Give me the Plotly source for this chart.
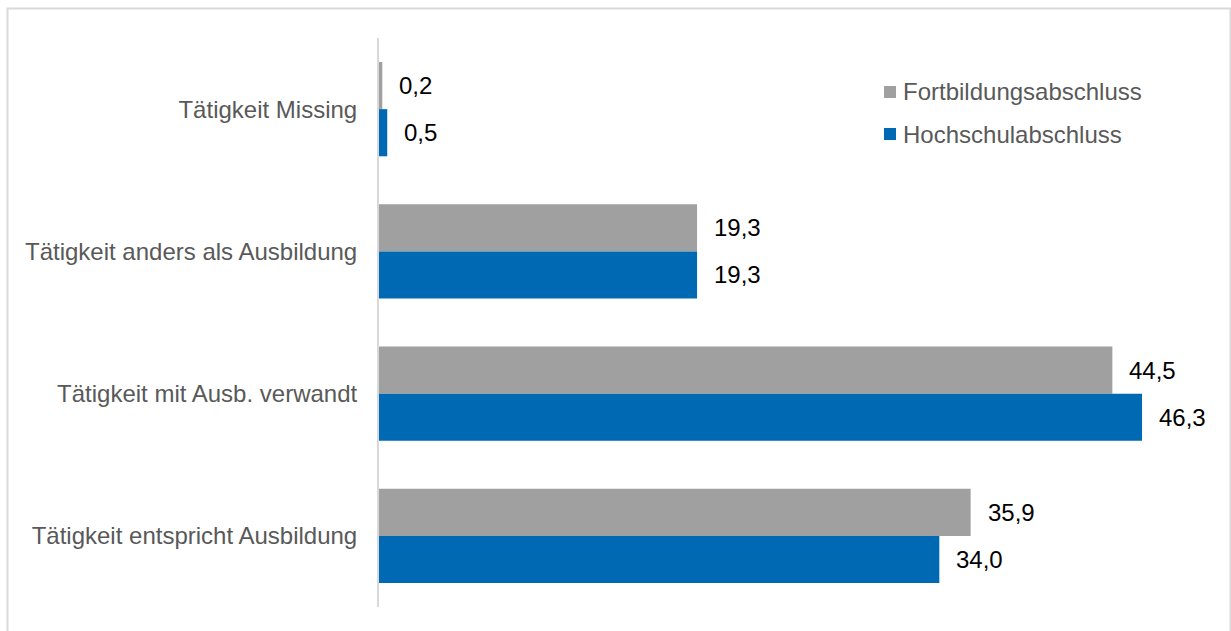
import plotly.graph_objects as go

# Categories listed top to bottom (y axis is reversed)
categories = [
    "Tätigkeit Missing",
    "Tätigkeit anders als Ausbildung",
    "Tätigkeit mit Ausb. verwandt",
    "Tätigkeit entspricht Ausbildung",
]
series_names = ["Fortbildungsabschluss", "Hochschulabschluss"]
fortbildung = [0.2, 19.3, 44.5, 35.9]
hochschule = [0.5, 19.3, 46.3, 34.0]
series_values = [fortbildung, hochschule]
series_colors = ["#A0A0A0", "#0069B4"]

W, H = 1231, 631
M_L, M_R, M_T, M_B = 379, 28, 38, 24
X_MAX = 50
BARGAP = 0.337
FONT = "Arial, Liberation Sans, sans-serif"
FS = 24

fig = go.Figure()
for name, vals, col in zip(series_names, series_values, series_colors):
    fig.add_trace(go.Bar(
        y=categories, x=vals, name=name, orientation="h",
        marker=dict(color=col, line=dict(width=0)),
        showlegend=False,
    ))

# value labels just right of each bar
n = len(series_values)
bar_w = (1 - BARGAP) / n
annotations = []
for k, vals in enumerate(series_values):
    offset = -(1 - BARGAP) / 2 + bar_w * (k + 0.5)
    for i, v in enumerate(vals):
        annotations.append(dict(
            x=v, y=i + offset, xref="x", yref="y",
            text=f"{v:.1f}".replace(".", ","),
            showarrow=False, xanchor="left", yanchor="middle", xshift=15,
            font=dict(family=FONT, size=FS, color="#000000"),
        ))

pw = W - M_L - M_R
ph = H - M_T - M_B

def px_x(p):
    return (p - M_L) / pw

def px_y(p):
    return (H - M_B - p) / ph

# legend: small colour squares followed by series names
shapes = [dict(
    type="rect", xref="paper", yref="paper",
    x0=px_x(7.5), x1=px_x(1230.5), y0=px_y(660), y1=px_y(8.5),
    line=dict(color="#D9D9D9", width=2), fillcolor="rgba(0,0,0,0)",
    layer="below",
)]
LEG_X, LEG_Y0, LEG_DY, SQ = 884, 92, 42, 12
for k, (name, col) in enumerate(zip(series_names, series_colors)):
    cy = LEG_Y0 + k * LEG_DY
    shapes.append(dict(
        type="rect", xref="paper", yref="paper",
        x0=px_x(LEG_X), x1=px_x(LEG_X + SQ),
        y0=px_y(cy + SQ / 2), y1=px_y(cy - SQ / 2),
        line=dict(width=0), fillcolor=col,
    ))
    annotations.append(dict(
        x=px_x(LEG_X + SQ + 5), y=px_y(cy), xref="paper", yref="paper",
        text=name, showarrow=False, xanchor="left", yanchor="middle",
        font=dict(family=FONT, size=FS, color="#595959"),
    ))

fig.update_layout(
    width=W, height=H,
    margin=dict(l=M_L, r=M_R, t=M_T, b=M_B, autoexpand=False),
    paper_bgcolor="white", plot_bgcolor="white",
    barmode="group", bargap=BARGAP, bargroupgap=0,
    showlegend=False,
    font=dict(family=FONT, size=FS, color="#595959"),
    xaxis=dict(range=[0, X_MAX], visible=False, fixedrange=True),
    yaxis=dict(
        autorange="reversed", showline=True, linecolor="#D9D9D9", linewidth=2,
        showgrid=False, zeroline=False, ticks="", ticklabelstandoff=15,
        tickfont=dict(family=FONT, size=FS, color="#595959"),
    ),
    annotations=annotations,
    shapes=shapes,
)

fig.write_html("out.html")
